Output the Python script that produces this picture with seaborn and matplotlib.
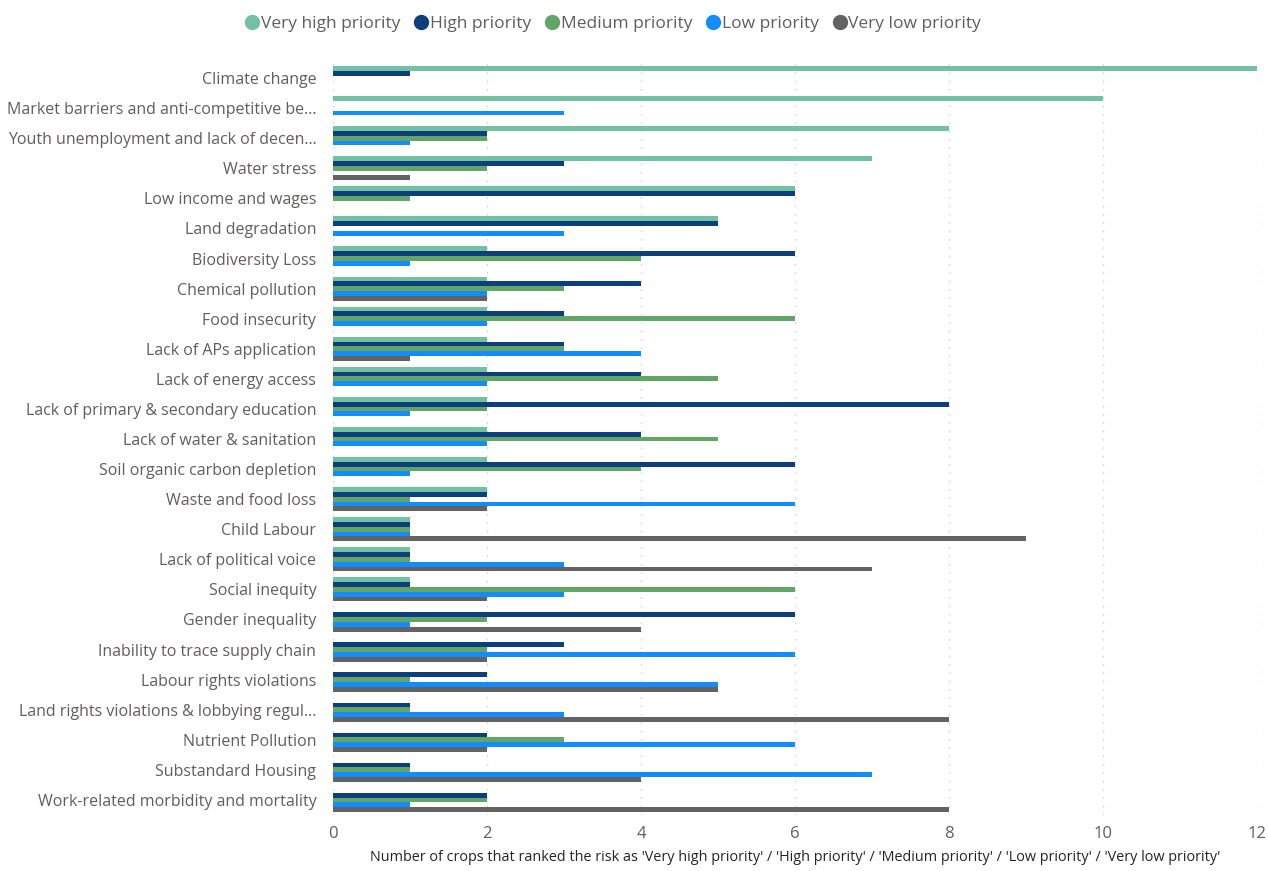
import numpy as np
import pandas as pd
import seaborn as sns
import matplotlib.pyplot as plt
from matplotlib.lines import Line2D

risks = [
    "Climate change",
    "Market barriers and anti-competitive be...",
    "Youth unemployment and lack of decen...",
    "Water stress",
    "Low income and wages",
    "Land degradation",
    "Biodiversity Loss",
    "Chemical pollution",
    "Food insecurity",
    "Lack of APs application",
    "Lack of energy access",
    "Lack of primary & secondary education",
    "Lack of water & sanitation",
    "Soil organic carbon depletion",
    "Waste and food loss",
    "Child Labour",
    "Lack of political voice",
    "Social inequity",
    "Gender inequality",
    "Inability to trace supply chain",
    "Labour rights violations",
    "Land rights violations & lobbying regul...",
    "Nutrient Pollution",
    "Substandard Housing",
    "Work-related morbidity and mortality",
]

very_high = [12, 10, 8, 7, 6, 5, 2, 2, 2, 2, 2, 2, 2, 2, 2, 1, 1, 1, 0, 0, 0, 0, 0, 0, 0]
high      = [1, 0, 2, 3, 6, 5, 6, 4, 3, 3, 4, 8, 4, 6, 2, 1, 1, 1, 6, 3, 2, 1, 2, 1, 2]
medium    = [0, 0, 2, 2, 1, 0, 4, 3, 6, 3, 5, 2, 5, 4, 1, 1, 1, 6, 2, 2, 1, 1, 3, 1, 2]
low       = [0, 3, 1, 0, 0, 3, 1, 2, 2, 4, 2, 1, 2, 1, 6, 1, 3, 3, 1, 6, 5, 3, 6, 7, 1]
very_low  = [0, 0, 0, 1, 0, 0, 0, 2, 0, 1, 0, 0, 0, 0, 2, 9, 7, 2, 4, 2, 5, 8, 2, 4, 8]

priorities = ["Very high priority", "High priority", "Medium priority",
              "Low priority", "Very low priority"]
colors = ["#72c1a3", "#0d3f7c", "#62a566", "#118dff", "#636363"]

series = [very_high, high, medium, low, very_low]
rows = []
for prio, vals in zip(priorities, series):
    for risk, v in zip(risks, vals):
        rows.append({"risk": risk, "priority": prio, "count": v})
df = pd.DataFrame(rows)

sns.set_theme(style="white")
plt.rcParams["font.family"] = ["Open Sans", "DejaVu Sans"]

fig = plt.figure(figsize=(12.68, 8.71), dpi=100)
ax = fig.add_axes([333 / 1268, 1 - 815 / 871, (1257 - 333) / 1268, (815 - 63) / 871])

sns.barplot(data=df, y="risk", x="count", hue="priority", order=risks,
            hue_order=priorities, palette=colors, orient="h", width=0.8,
            dodge=True, saturation=1, errorbar=None, legend=False,
            linewidth=0, ax=ax)

ax.set_xlim(0, 12)
ax.set_ylim(len(risks) - 0.5, -0.5)
ax.set_xticks(np.arange(0, 13, 2))
ax.xaxis.grid(True, linestyle=(0, (1, 5)), color="#cfcfcf", linewidth=1)
ax.set_axisbelow(True)
for s in ax.spines.values():
    s.set_visible(False)

ax.tick_params(axis="y", length=0, pad=12, labelsize=11.5, labelcolor="#605e5c")
ax.tick_params(axis="x", length=0, pad=8, labelsize=12, labelcolor="#605e5c")
ax.set_ylabel("")
ax.set_xlabel("Number of crops that ranked the risk as 'Very high priority' / 'High priority' / "
              "'Medium priority' / 'Low priority' / 'Very low priority'",
              fontsize=10.4, color="#252423", labelpad=6)

handles = [Line2D([0], [0], marker="o", linestyle="", markersize=10,
                  markerfacecolor=c, markeredgecolor=c) for c in colors]
fig.legend(handles, priorities, loc="center", bbox_to_anchor=(0.483, 1 - 24 / 871),
           ncol=5, frameon=False, fontsize=12.5, handletextpad=0.0,
           columnspacing=0.7, handlelength=1.0, labelcolor="#605e5c")

fig.savefig("out.png", dpi=100)
